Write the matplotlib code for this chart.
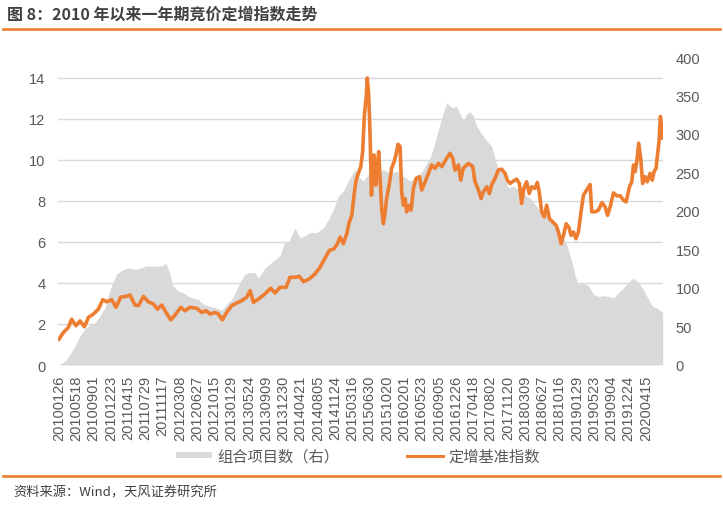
import matplotlib
matplotlib.use("Agg")
import matplotlib.pyplot as plt
from matplotlib.lines import Line2D
from matplotlib.patches import Patch

plt.rcParams['font.family'] = ['Liberation Sans', 'Noto Sans CJK SC', 'DejaVu Sans']
CJK = ['Noto Sans CJK SC', 'DejaVu Sans']

# ---------------- data (x in units of tick-label spacing) ----------------
tick_labels = ["20100126", "20100518", "20100901", "20101223", "20110415", "20110729",
               "20111117", "20120308", "20120627", "20121015", "20130129", "20130524",
               "20130909", "20131230", "20140421", "20140805", "20141124", "20150316",
               "20150630", "20151020", "20160201", "20160523", "20160905", "20161226",
               "20170418", "20170802", "20171120", "20180309", "20180627", "20181016",
               "20190129", "20190523", "20190904", "20191224", "20200415"]

index_pos = [0.00, 0.25, 0.54, 0.73, 0.98, 1.22, 1.47, 1.70, 1.99, 2.28, 2.53, 2.76, 3.05, 3.30,
             3.57, 3.88, 4.11, 4.40, 4.60, 4.89, 5.17, 5.47, 5.70, 5.95, 6.20, 6.47, 6.72, 7.05,
             7.30, 7.59, 7.98, 8.26, 8.52, 8.75, 9.04, 9.23, 9.46, 9.71, 10.00, 10.30, 10.58,
             10.87, 11.07, 11.26, 11.55, 11.93, 12.26, 12.51, 12.80, 13.15, 13.38, 13.67, 13.92,
             14.16, 14.50, 14.83, 15.12, 15.41, 15.66, 15.93, 16.13, 16.28, 16.47, 16.67, 16.82,
             16.96, 17.09, 17.21, 17.34, 17.48, 17.59, 17.69, 17.79, 17.86, 17.94, 18.02, 18.10,
             18.17, 18.25, 18.35, 18.42, 18.52, 18.60, 18.69, 18.79, 18.89, 18.98, 19.14, 19.27,
             19.41, 19.52, 19.64, 19.76, 19.85, 19.95, 20.05, 20.14, 20.28, 20.40, 20.53, 20.69,
             20.88, 21.01, 21.21, 21.40, 21.59, 21.78, 21.98, 22.17, 22.46, 22.65, 22.81, 22.94,
             23.14, 23.27, 23.42, 23.72, 23.97, 24.10, 24.30, 24.45, 24.58, 24.78, 24.93, 25.07,
             25.26, 25.45, 25.64, 25.84, 25.97, 26.13, 26.32, 26.51, 26.67, 26.80, 26.93, 27.09,
             27.24, 27.38, 27.57, 27.71, 27.82, 27.96, 28.11, 28.25, 28.41, 28.60, 28.80, 28.93,
             29.09, 29.22, 29.38, 29.53, 29.67, 29.80, 29.95, 30.09, 30.24, 30.38, 30.57, 30.77,
             30.86, 31.06, 31.25, 31.45, 31.64, 31.78, 31.93, 32.12, 32.31, 32.51, 32.70, 32.85,
             33.05, 33.18, 33.28, 33.37, 33.47, 33.58, 33.70, 33.81, 33.95, 34.08, 34.24, 34.37,
             34.47, 34.59, 34.66, 34.76, 34.84, 34.89, 34.93, 34.97]
index_val = [1.26, 1.58, 1.83, 2.23, 1.91, 2.15, 1.86, 2.32, 2.48, 2.72, 3.18, 3.08, 3.18, 2.81,
             3.30, 3.34, 3.41, 2.92, 2.89, 3.34, 3.08, 2.97, 2.72, 2.92, 2.56, 2.20, 2.43, 2.81,
             2.64, 2.81, 2.76, 2.56, 2.64, 2.48, 2.56, 2.48, 2.20, 2.56, 2.89, 3.02, 3.13,
             3.30, 3.62, 3.05, 3.21, 3.46, 3.74, 3.51, 3.78, 3.78, 4.27, 4.27, 4.32,
             4.06, 4.19, 4.44, 4.76, 5.20, 5.58, 5.66, 5.91, 6.23, 5.91, 6.39, 6.97,
             7.29, 8.27, 9.00, 9.33, 9.66, 10.39, 12.19, 13.00, 13.98, 13.16, 11.21, 8.27,
             9.58, 10.23, 8.76, 9.58, 10.39, 9.09, 7.62, 6.88, 7.46, 8.11, 8.84, 9.58,
             9.90, 10.23, 10.75, 10.64, 8.43, 7.78, 8.11, 7.46, 7.78, 7.54, 8.60, 9.09,
             9.17, 8.52, 8.92, 9.33, 9.74, 9.58, 9.82, 9.66, 10.07, 10.31, 10.07, 9.49,
             9.74, 9.00, 9.58, 9.82, 9.66, 8.92, 8.52, 8.11, 8.43, 8.68, 8.35, 8.79,
             9.09, 9.49, 9.54, 9.33, 9.00, 8.84, 8.96, 9.05, 8.84, 7.86, 8.60, 8.92,
             8.35, 8.68, 8.60, 8.89, 8.43, 7.46, 7.21, 7.78, 7.13, 6.97, 6.80, 6.48,
             5.91, 6.31, 6.88, 6.72, 6.31, 6.48, 6.15, 6.48, 7.46, 8.27, 8.52, 8.79,
             7.46, 7.46, 7.54, 7.91, 7.70, 7.29, 7.70, 8.38, 8.24, 8.24, 8.03, 7.94,
             8.68, 8.92, 9.74, 9.41, 9.90, 10.80, 10.07, 8.84, 9.17, 8.92, 9.33, 9.00,
             9.41, 9.58, 10.15, 10.88, 12.10, 11.70, 11.04, 11.61]

count_pos = [0, 0.35, 0.64, 0.93, 1.22, 1.51, 1.79, 2.09, 2.37, 2.66, 2.91, 3.11, 3.34, 3.63,
             4.02, 4.50, 5.08, 5.66, 5.95, 6.20, 6.39, 6.59, 6.91, 7.20, 7.49, 7.78, 8.07, 8.36,
             8.75, 9.13, 9.42, 9.71, 10.00, 10.30, 10.52, 10.77, 11.06, 11.36, 11.55, 11.93,
             12.41, 12.80, 13.09, 13.29, 13.67, 13.96, 14.25, 14.54, 14.93, 15.31, 15.61, 15.89,
             16.18, 16.47, 16.86, 17.15, 17.34, 17.63, 17.92, 18.21, 18.50, 18.79, 19.18, 19.56,
             19.95, 20.33, 20.72, 21.11, 21.49, 21.78, 22.07, 22.27, 22.46, 22.75, 23.04, 23.23,
             23.42, 23.62, 23.81, 24.01, 24.20, 24.49, 24.78, 25.07, 25.26, 25.45, 25.74, 26.03,
             26.32, 26.61, 26.90, 27.28, 27.57, 27.86, 28.25, 28.64, 29.03, 29.32, 29.51, 29.71,
             29.90, 30.09, 30.38, 30.67, 30.96, 31.25, 31.54, 31.83, 32.12, 32.41, 32.70, 32.99,
             33.28, 33.57, 33.86, 34.15, 34.40, 34.63, 34.97]
count_val = [0, 5, 14, 25, 38, 47, 52, 55, 64, 74, 94, 107, 118, 123,
             126, 124, 129, 128, 129, 132, 120, 103, 96, 94, 89, 87, 85, 79,
             76, 74, 71, 79, 85, 98, 109, 118, 120, 120, 113, 126,
             135, 142, 161, 159, 178, 165, 168, 172, 172, 178, 189, 202,
             219, 226, 243, 254, 245, 239, 248, 254, 250, 254, 248, 252,
             245, 239, 243, 254, 269, 289, 313, 328, 341, 334, 336, 326,
             317, 326, 329, 323, 310, 300, 291, 284, 267, 256, 248, 230,
             232, 228, 222, 217, 209, 200, 196, 185, 170, 161, 150, 133,
             116, 105, 106, 103, 92, 89, 90, 89, 87, 94, 100, 108,
             113, 107, 98, 85, 76, 74, 68]

series_names = ["组合项目数（右）", "定增基准指数"]
title = "图 8：2010 年以来一年期竞价定增指数走势"
source = "资料来源：Wind，天风证券研究所"

# ---------------- style ----------------
ORANGE = '#ED7D31'
GRAY = '#D9D9D9'
TXT = '#595959'
DARK = '#404040'

W, H = 723, 506
fig = plt.figure(figsize=(W / 100, H / 100), dpi=100)
rect = [58 / W, 1 - 366 / H, (663 - 58) / W, (366 - 58) / H]
ax = fig.add_axes(rect)
ax2 = ax.twinx()
ax3 = ax.twinx()
for a in (ax2, ax3):
    a.patch.set_visible(False)
for a in (ax, ax2, ax3):
    for s in a.spines.values():
        s.set_visible(False)
    a.tick_params(length=0)

# left axis with grid
ax.set_ylim(0, 15)
ax.set_yticks(range(0, 15, 2))
ax.yaxis.grid(True, color=GRAY, lw=1.0)
ax.set_axisbelow(True)
ax.tick_params(axis='y', labelsize=10.5, labelcolor=TXT, pad=9)

# right axis: gray area
ax2.fill_between(count_pos, count_val, 0, color=GRAY, lw=0)
ax2.set_ylim(0, 400)
ax2.set_yticks(range(0, 401, 50))
ax2.tick_params(axis='y', labelsize=10.5, labelcolor=TXT, pad=9)

# orange line on left scale
ax3.plot(index_pos, index_val, color=ORANGE, lw=2.6, solid_joinstyle='round')
ax3.set_ylim(0, 15)
ax3.set_yticks([])

ax.set_xlim(-0.06, 34.99)
ax.set_xticks(range(len(tick_labels)))
ax.set_xticklabels(tick_labels, rotation=90, fontsize=10.5, color=TXT)
ax.tick_params(axis='x', pad=7)

# legend
handles = [Patch(facecolor=GRAY, edgecolor='none'), Line2D([], [], color=ORANGE, lw=2.2)]
fig.legend(handles, series_names, loc='center', bbox_to_anchor=(0.495, 1 - 457 / H),
           ncol=2, frameon=False, prop={'family': CJK, 'size': 11}, labelcolor=TXT,
           handlelength=2.4, handleheight=0.28, handletextpad=0.35, columnspacing=4.4)

# title, rules, source
fig.text(7 / W, 1 - 15 / H, title, fontsize=11.5, fontweight='bold', color=DARK,
         family=CJK, va='center', ha='left')
fig.add_artist(Line2D([3 / W, 720 / W], [1 - 29.5 / H] * 2, color=ORANGE, lw=1.9))
fig.add_artist(Line2D([3 / W, 720 / W], [1 - 477 / H] * 2, color=ORANGE, lw=1.9))
fig.text(13 / W, 1 - 493 / H, source, fontsize=9.5, color=DARK, family=CJK,
         va='center', ha='left')

fig.savefig('out.png', dpi=100)
